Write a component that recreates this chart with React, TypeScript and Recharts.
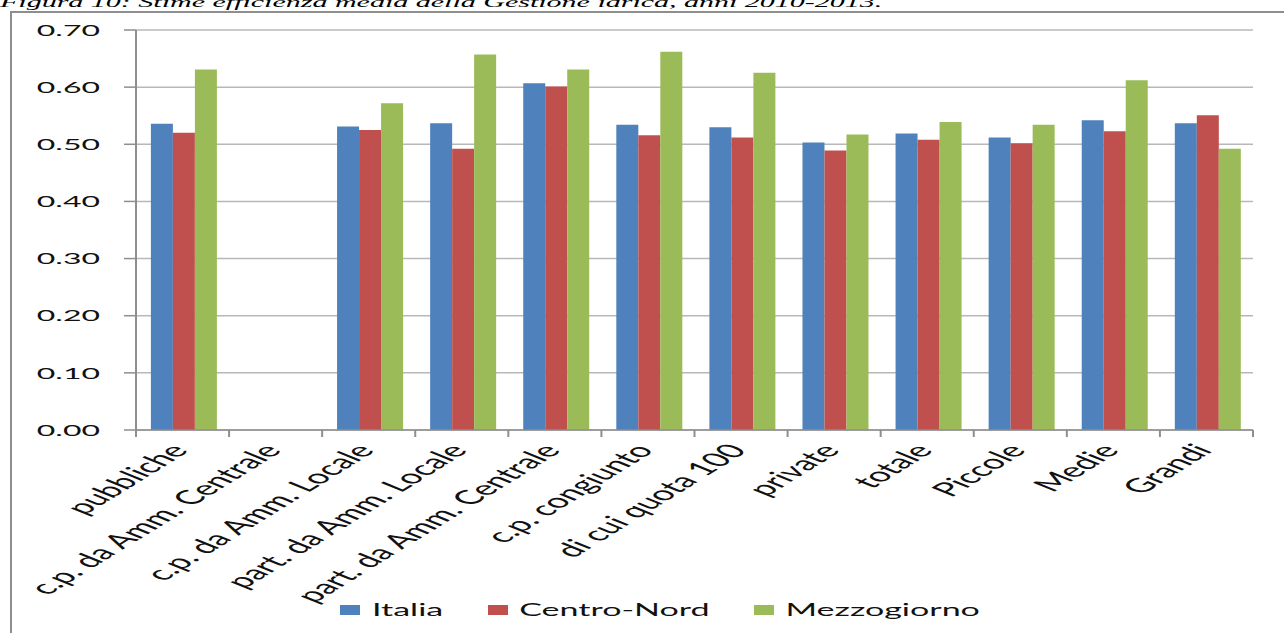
import { BarChart, Bar, XAxis, YAxis, CartesianGrid } from 'recharts'

// values (efficiency estimates, 2010-2013)
const categories = [
  'pubbliche',
  'c.p. da Amm. Centrale',
  'c.p. da Amm. Locale',
  'part. da Amm. Locale',
  'part. da Amm. Centrale',
  'c.p. congiunto',
  'di cui quota 100',
  'private',
  'totale',
  'Piccole',
  'Medie',
  'Grandi',
]
const italia      = [0.536, null, 0.531, 0.537, 0.607, 0.534, 0.530, 0.503, 0.519, 0.512, 0.542, 0.537]
const centroNord  = [0.520, null, 0.525, 0.492, 0.601, 0.516, 0.512, 0.489, 0.508, 0.502, 0.523, 0.551]
const mezzogiorno = [0.631, null, 0.572, 0.657, 0.631, 0.662, 0.625, 0.517, 0.539, 0.534, 0.612, 0.492]
const yTicks = [0, 0.1, 0.2, 0.3, 0.4, 0.5, 0.6, 0.7]

const seriesNames  = ['Italia', 'Centro-Nord', 'Mezzogiorno']
const seriesColors = ['#4F81BD', '#C0504D', '#9BBB59']

const data = categories.map((name, i) => ({
  name,
  italia: italia[i],
  centroNord: centroNord[i],
  mezzogiorno: mezzogiorno[i],
}))

// the reference is an Excel chart stretched 2x horizontally
const STRETCH = 2
const W = 1284 / STRETCH
const H = 633
const FONT = 'Lato, "Open Sans", sans-serif'
const AXIS_GREY = '#8e8e8e'

function CategoryTick(props: any) {
  const { x, y, payload, index, visibleTicksCount } = props
  const half = payload?.offset ?? 0
  const isLast = index === visibleTicksCount - 1
  return (
    <g>
      <line x1={x - half} x2={x - half} y1={y} y2={y + 7} stroke={AXIS_GREY} strokeWidth={1} />
      {isLast && <line x1={x + half} x2={x + half} y1={y} y2={y + 7} stroke={AXIS_GREY} strokeWidth={1} />}
      <text
        transform={`translate(${x + 3.5},${y + 21}) rotate(-51)`}
        textAnchor="end"
        fontSize={19.5}
        fontFamily={FONT}
        fill="#111"
      >
        {payload.value}
      </text>
    </g>
  )
}

function Legend() {
  return (
    <div
      style={{
        position: 'absolute', left: 170, top: 600,
        display: 'flex', alignItems: 'center',
        fontFamily: FONT, fontSize: 17, color: '#111', lineHeight: '20px',
      }}
    >
      {seriesNames.map((n, i) => (
        <div key={n} style={{ display: 'flex', alignItems: 'center', marginRight: 22 }}>
          <span style={{ width: 10, height: 10, background: seriesColors[i], marginRight: 6, display: 'inline-block' }} />
          <span>{n}</span>
        </div>
      ))}
    </div>
  )
}

export default function App() {
  return (
    <div style={{ position: 'fixed', left: 0, top: 0, width: 1284, height: H, overflow: 'hidden', background: '#fff' }}>
      <div style={{ position: 'absolute', left: 0, top: 0, width: W, height: H, transform: `scaleX(${STRETCH})`, transformOrigin: '0 0' }}>
        <div
          style={{
            position: 'absolute', left: 0, top: -5, whiteSpace: 'nowrap',
            fontFamily: '"Liberation Serif", serif', fontStyle: 'italic', fontSize: 15, lineHeight: '15px', color: '#000',
          }}
        >
          Figura 10: Stime efficienza media della Gestione idrica, anni 2010-2013.
        </div>
        <div
          style={{
            position: 'absolute', left: 5, top: 11, width: W + 20, height: H,
            borderLeft: `1px solid ${AXIS_GREY}`, borderTop: `2px solid ${AXIS_GREY}`,
          }}
        />
        <div style={{ position: 'absolute', left: 0, top: 0 }}>
          <BarChart
            width={W}
            height={H}
            data={data}
            margin={{ top: 30, right: 15.5, bottom: 0, left: 0 }}
            barCategoryGap="16%"
            barGap={0}
          >
            <CartesianGrid vertical={false} stroke="#b8b8b8" strokeWidth={1.5} />
            <XAxis
              dataKey="name"
              interval={0}
              height={H - 430}
              tickLine={false}
              tickSize={0}
              tickMargin={0}
              axisLine={{ stroke: AXIS_GREY, strokeWidth: 1.5 }}
              tick={<CategoryTick />}
            />
            <YAxis
              width={68}
              domain={[0, 0.7]}
              ticks={yTicks}
              tickFormatter={(v: number) => v.toFixed(2)}
              tickSize={6}
              tickMargin={12}
              tickLine={{ stroke: AXIS_GREY, strokeWidth: 1.5 }}
              axisLine={{ stroke: AXIS_GREY, strokeWidth: 1 }}
              tick={{ fontSize: 16, fontFamily: FONT, fill: '#111' }}
            />
            <Bar dataKey="italia" name="Italia" fill={seriesColors[0]} isAnimationActive={false} />
            <Bar dataKey="centroNord" name="Centro-Nord" fill={seriesColors[1]} isAnimationActive={false} />
            <Bar dataKey="mezzogiorno" name="Mezzogiorno" fill={seriesColors[2]} isAnimationActive={false} />
          </BarChart>
        </div>
        <Legend />
      </div>
    </div>
  )
}
